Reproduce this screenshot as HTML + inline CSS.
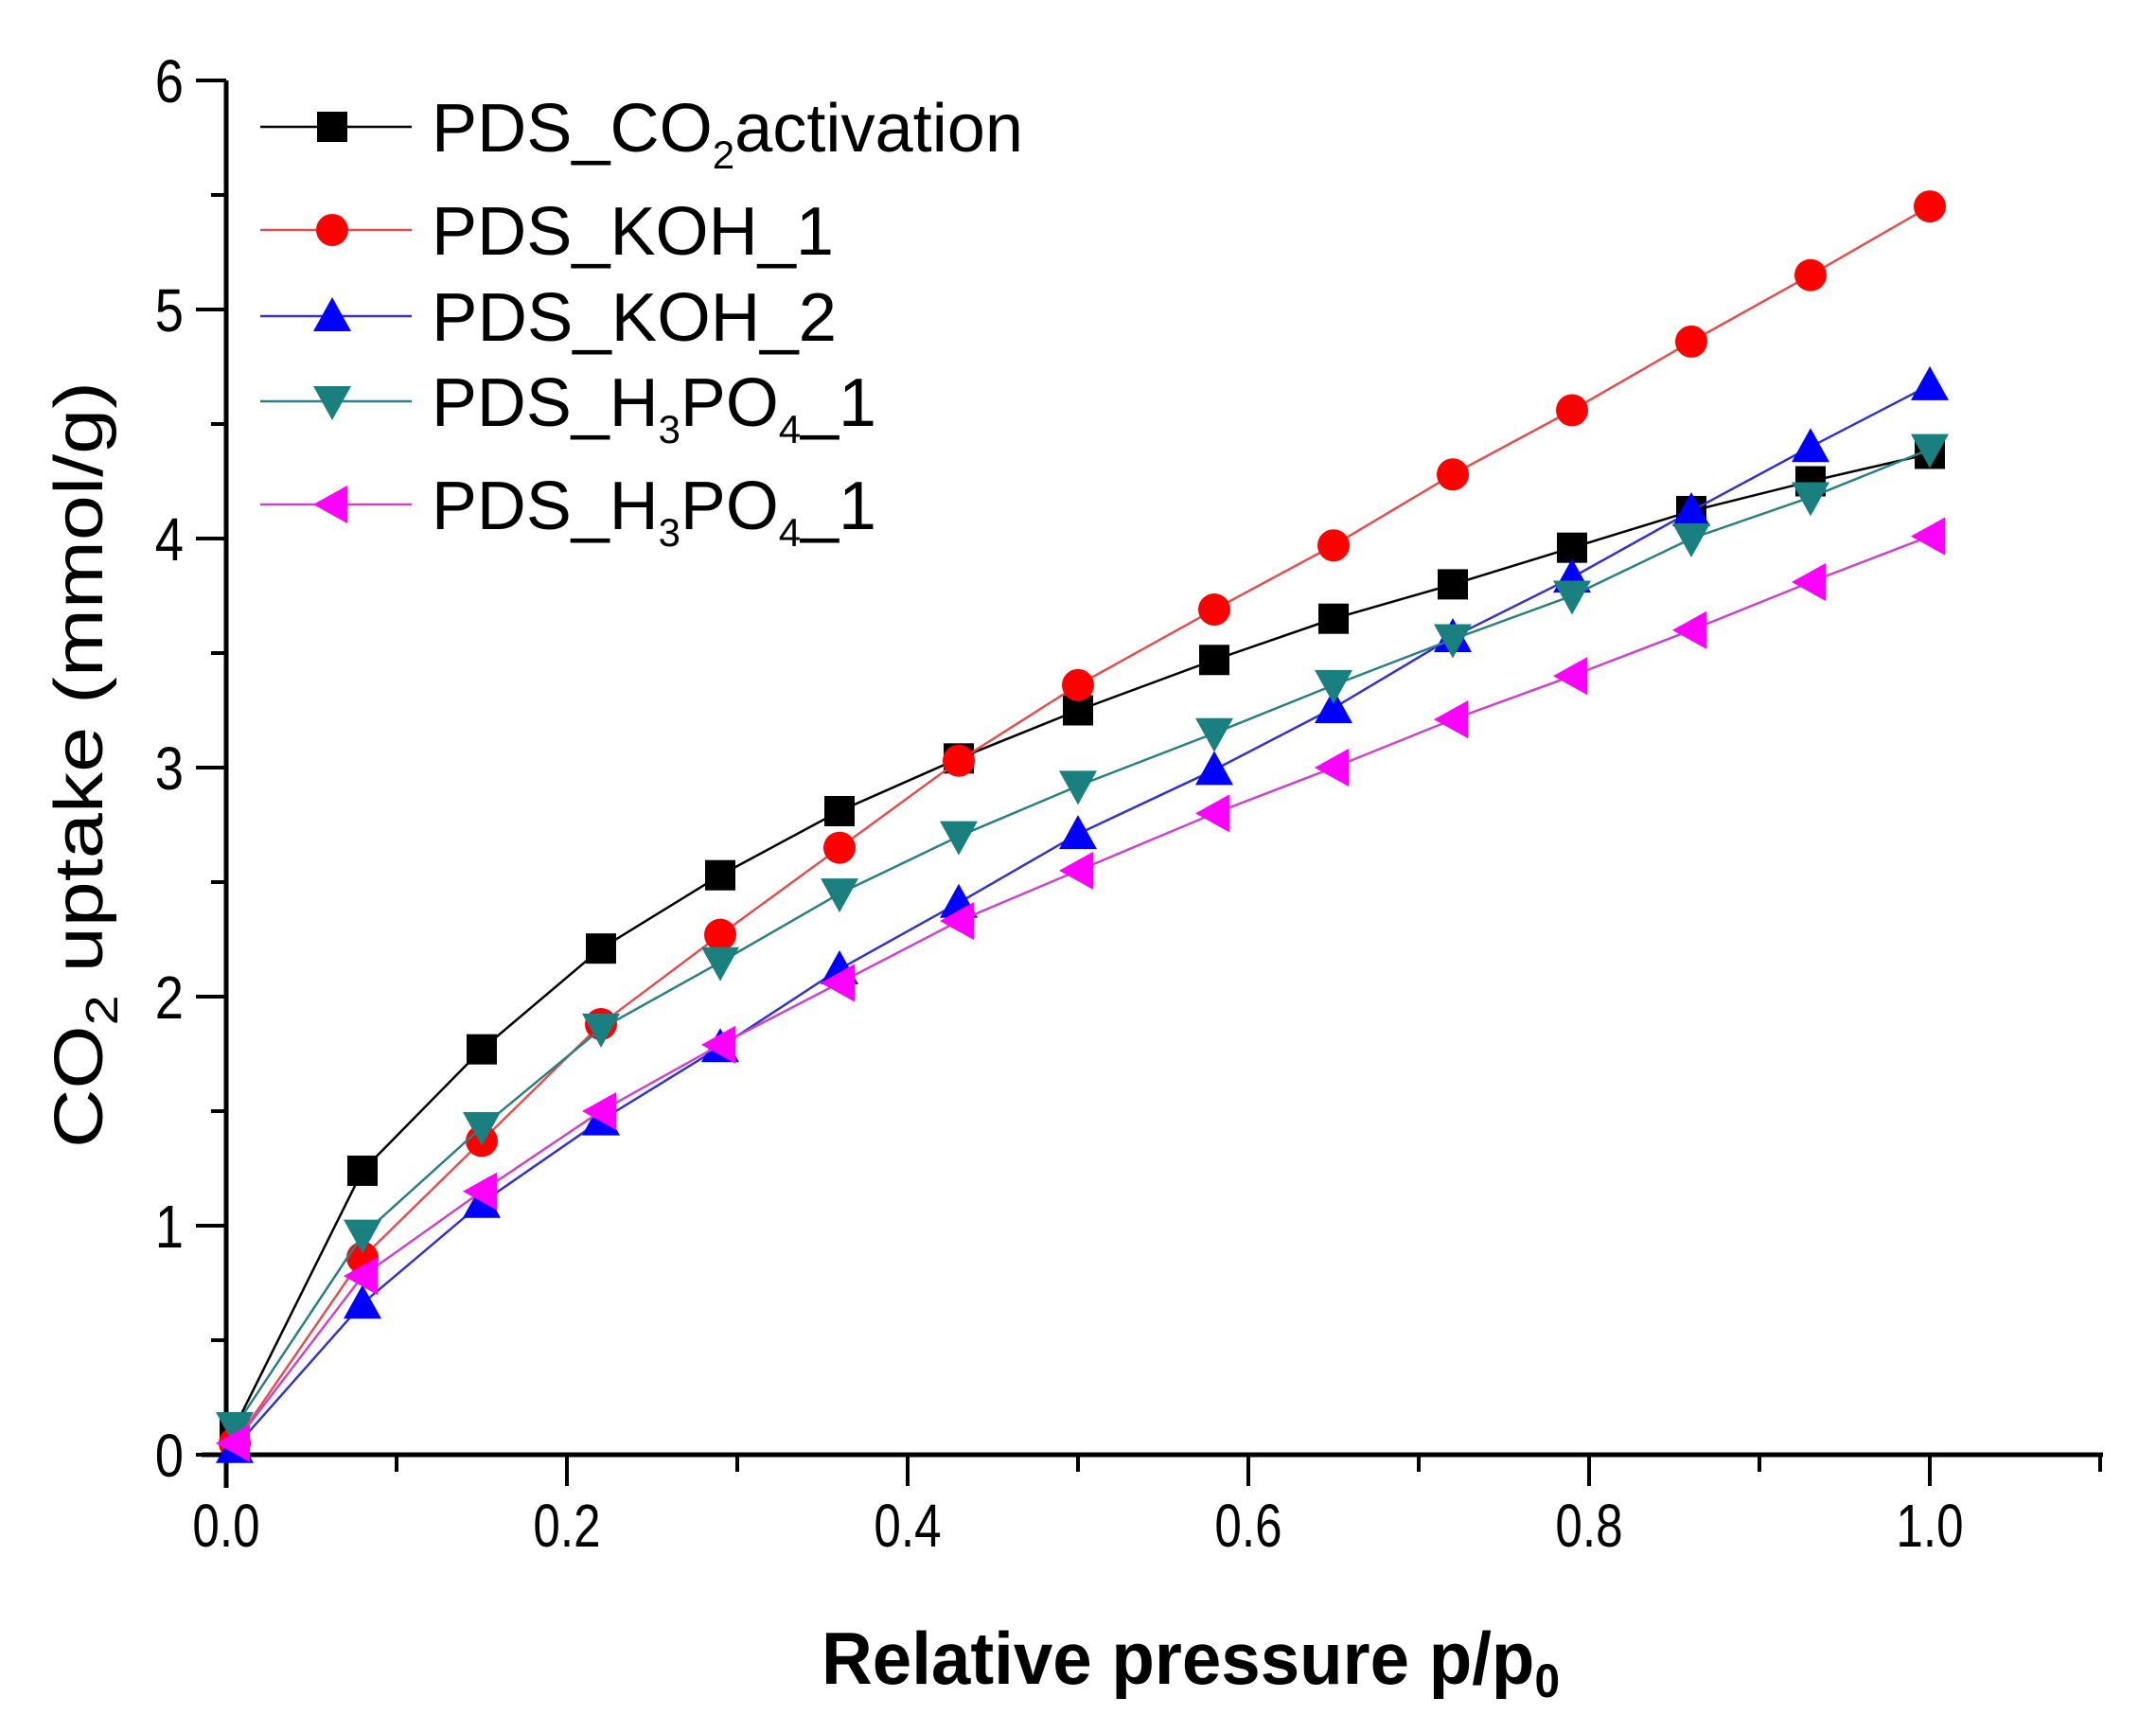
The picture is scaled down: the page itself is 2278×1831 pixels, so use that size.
<!DOCTYPE html>
<html><head><meta charset="utf-8"><style>
html,body{margin:0;padding:0;background:#fff;}
svg{display:block;font-family:"Liberation Sans",sans-serif;}
</style></head><body>
<svg id="chart" width="2278" height="1831" viewBox="0 0 2278 1831" xmlns="http://www.w3.org/2000/svg">
<rect width="2278" height="1831" fill="#fff"/>
<g id="axes"></g>
<g id="series"></g>
<g id="legend"></g>
<text x="868" y="1779" font-size="78" font-weight="bold" textLength="780" lengthAdjust="spacingAndGlyphs">Relative pressure p/p<tspan font-size="50" dy="14">0</tspan></text>
<text transform="translate(108,808) rotate(-90)" text-anchor="middle" font-size="72" textLength="810" lengthAdjust="spacingAndGlyphs">CO<tspan font-size="48" dy="16">2</tspan><tspan dy="-16"> uptake (mmol/g)</tspan></text>
</svg>
<script>
const xValues = [0.005,0.08,0.15,0.22,0.29,0.36,0.43,0.50,0.58,0.65,0.72,0.79,0.86,0.93,1.0];
const seriesNames = ["PDS_CO2activation","PDS_KOH_1","PDS_KOH_2","PDS_H3PO4_1","PDS_H3PO4_1b"];
const co2Values = [0.12,1.24,1.77,2.21,2.53,2.81,3.04,3.25,3.47,3.65,3.80,3.96,4.12,4.25,4.37];
const koh1Values = [0.05,0.86,1.37,1.88,2.27,2.65,3.03,3.36,3.69,3.97,4.28,4.56,4.86,5.15,5.45];
const koh2Values = [0.03,0.66,1.10,1.46,1.78,2.12,2.41,2.71,2.99,3.26,3.57,3.83,4.12,4.40,4.67];
const h3po4aValues = [0.12,0.96,1.43,1.86,2.15,2.45,2.70,2.92,3.15,3.36,3.56,3.75,4.00,4.18,4.39];
const h3po4bValues = [0.05,0.78,1.15,1.50,1.79,2.06,2.33,2.55,2.80,3.00,3.21,3.40,3.60,3.81,4.01];
const xTickLabels = ["0.0","0.2","0.4","0.6","0.8","1.0"];
const yTickLabels = ["0","1","2","3","4","5","6"];

const NS="http://www.w3.org/2000/svg";
const X0=239, XS=1800, Y0=1537, YS=242;
const sx=v=>X0+v*XS, sy=v=>Y0-v*YS;
function mk(tag,attrs,parent){const e=document.createElementNS(NS,tag);for(const k in attrs)e.setAttribute(k,attrs[k]);parent.appendChild(e);return e;}

const axes=document.getElementById('axes');
let e;
e=mk('line',{x1:X0,y1:sy(6),x2:X0,y2:Y0+35,stroke:'#000','stroke-width':5},axes);


e=mk('line',{x1:213,y1:Y0,x2:2222,y2:Y0,stroke:'#000','stroke-width':5},axes);


for(let i=1;i<=11;i++){const v=i/10;const major=i%2===0;
 e=mk('line',{x1:sx(v),y1:Y0,x2:sx(v),y2:Y0+(major?33:18),stroke:'#000','stroke-width':4},axes);
 
 }
xTickLabels.forEach((t,i)=>{const px=sx(i*0.2);
 e=mk('text',{x:px,y:1634,'text-anchor':'middle','font-size':64,transform:`translate(${px},0) scale(0.8,1) translate(${-px},0)`},axes);
 e.textContent=t;
 
 });
for(let i=0;i<=12;i++){const v=i/2;const major=i%2===0;
 e=mk('line',{x1:X0-(major?32:16),y1:sy(v),x2:X0,y2:sy(v),stroke:'#000','stroke-width':4},axes);
 
 }
yTickLabels.forEach((t,i)=>{e=mk('text',{x:194,y:sy(i)+23,'text-anchor':'end','font-size':64,transform:`translate(194,0) scale(0.85,1) translate(-194,0)`},axes);
 e.textContent=t;
 
 });

function marker(type,x,y,color,g){let m;
 if(type==='square'){m=mk('rect',{x:x-16,y:y-16,width:32,height:32,fill:color},g);}
 else if(type==='circle'){m=mk('circle',{cx:x,cy:y,r:17,fill:color},g);}
 else if(type==='up'){m=mk('polygon',{points:`${x},${y-20} ${x+20},${y+16} ${x-20},${y+16}`,fill:color},g);}
 else if(type==='down'){m=mk('polygon',{points:`${x},${y+20} ${x+20},${y-16} ${x-20},${y-16}`,fill:color},g);}
 else {m=mk('polygon',{points:`${x-20},${y} ${x+16},${y-20} ${x+16},${y+20}`,fill:color},g);}
 return m;}

const defs=[
 {vals:co2Values,color:'#000000',line:'#000000',m:'square',name:'co2-activation'},
 {vals:koh1Values,color:'#ff0000',line:'#e05050',m:'circle',name:'koh-1'},
 {vals:koh2Values,color:'#0000ff',line:'#3333cc',m:'up',name:'koh-2'},
 {vals:h3po4aValues,color:'#1a7f7f',line:'#2a8080',m:'down',name:'h3po4-1'},
 {vals:h3po4bValues,color:'#ff00ff',line:'#cc44cc',m:'left',name:'h3po4-1-second'}];
const sg=document.getElementById('series');
defs.forEach(d=>{
 const g=mk('g',{},sg);
 
 
 const pl=mk('polyline',{points:d.vals.map((v,i)=>sx(xValues[i])+','+sy(v)).join(' '),fill:'none',stroke:d.line,'stroke-width':2.5},g);
 
 
 d.vals.forEach((v,i)=>{const m=marker(d.m,sx(xValues[i]),sy(v),d.color,g);
  
  });
});

const lg=document.getElementById('legend');
const ly=[134,243,334,424,533];
const labels=[['PDS_CO','2','activation'],['PDS_KOH_1'],['PDS_KOH_2'],['PDS_H','3','PO','4','_1'],['PDS_H','3','PO','4','_1']];
const lens=[625,425,428,470,470];
defs.forEach((d,i)=>{
 const g=mk('g',{},lg);
 
 
 mk('line',{x1:275,y1:ly[i],x2:435,y2:ly[i],stroke:d.line,'stroke-width':2.5},g);
 marker(d.m,351,ly[i],d.color,g);
 const t=mk('text',{x:456,y:ly[i]+26,'font-size':72,textLength:lens[i],lengthAdjust:'spacingAndGlyphs'},g);
 labels[i].forEach((p,j)=>{const ts=mk('tspan',{},t);
  if(j%2===1){ts.setAttribute('font-size','42');ts.setAttribute('dy','18');}
  else if(j>0){ts.setAttribute('dy','-18');}
  ts.textContent=p;});
});
</script>
</body></html>
